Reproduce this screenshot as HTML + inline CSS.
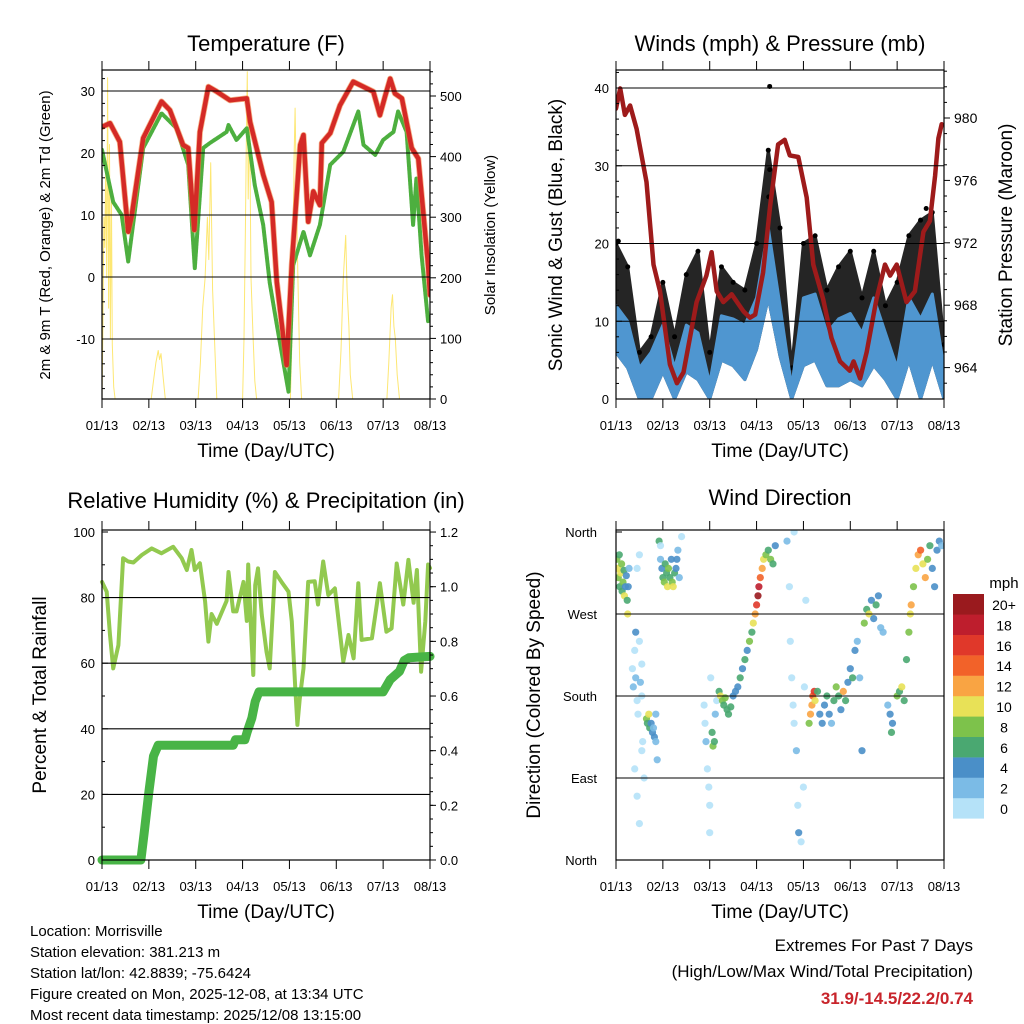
<!DOCTYPE html>
<html><head><meta charset="utf-8"><style>
html,body{margin:0;padding:0;background:#fff}
svg{display:block;font-family:"Liberation Sans",Arial,sans-serif}
</style></head><body>
<svg id="c" width="1024" height="1024" viewBox="0 0 1024 1024">
<rect width="1024" height="1024" fill="#fff"/>
<g id="g1"></g>
<g id="g2"></g>
<g id="g3"></g>
<g id="g4"></g>
<g font-size="22" text-anchor="middle" fill="#000">
<text x="266" y="51">Temperature (F)</text>
<text x="780" y="51">Winds (mph) &amp; Pressure (mb)</text>
<text x="266" y="508">Relative Humidity (%) &amp; Precipitation (in)</text>
<text x="780" y="505">Wind Direction</text>
</g>
<g font-size="19" text-anchor="middle">
<text x="266" y="457">Time (Day/UTC)</text>
<text x="780" y="457">Time (Day/UTC)</text>
<text x="266" y="918">Time (Day/UTC)</text>
<text x="780" y="918">Time (Day/UTC)</text>
<text transform="translate(50,235) rotate(-90)" font-size="15">2m &amp; 9m T (Red, Orange) &amp; 2m Td (Green)</text>
<text transform="translate(495,235) rotate(-90)" font-size="15">Solar Insolation (Yellow)</text>
<text transform="translate(562,235) rotate(-90)">Sonic Wind &amp; Gust (Blue, Black)</text>
<text transform="translate(1012,235) rotate(-90)">Station Pressure (Maroon)</text>
<text transform="translate(46,695) rotate(-90)">Percent &amp; Total Rainfall</text>
<text transform="translate(540,695) rotate(-90)">Direction (Colored By Speed)</text>
</g>
<g font-size="15">
<text x="30" y="936">Location: Morrisville</text>
<text x="30" y="957">Station elevation: 381.213 m</text>
<text x="30" y="978">Station lat/lon: 42.8839; -75.6424</text>
<text x="30" y="999">Figure created on Mon, 2025-12-08, at 13:34 UTC</text>
<text x="30" y="1020">Most recent data timestamp: 2025/12/08 13:15:00</text>
</g>
<g font-size="17" text-anchor="end">
<text x="973" y="951">Extremes For Past 7 Days</text>
<text x="973" y="977">(High/Low/Max Wind/Total Precipitation)</text>
<text x="973" y="1004" fill="#c8242b" font-weight="bold">31.9/-14.5/22.2/0.74</text>
</g>
<g id="leg"><text x="1004" y="588" font-size="15" text-anchor="middle">mph</text></g>
</svg>
<script>
const xTicks=["01/13","02/13","03/13","04/13","05/13","06/13","07/13","08/13"];
// Temperature
const tempT=[0,0.17,0.38,0.56,0.63,0.88,1.27,1.45,1.73,1.84,1.97,2.09,2.27,2.45,2.73,3.09,3.16,3.44,3.62,3.73,3.94,4.05,4.23,4.30,4.40,4.51,4.65,4.69,4.87,5.08,5.36,5.79,5.93,6.04,6.15,6.25,6.40,6.61,6.75,6.96,7];
const tempV=[24.2,24.8,21.8,7.3,9.7,22.4,28.3,26.9,21.3,20.8,7.6,23.4,30.7,29.9,28.5,28.8,25.0,16.5,12.1,-0.8,-14.2,2.1,21.3,22.9,8.9,13.8,11.6,21.6,23.2,27.7,31.5,29.9,26.1,29.1,32.0,29.6,28.8,20.8,19.1,1.9,-2.9];
const dewT=[0,0.24,0.42,0.56,0.88,1.27,1.59,1.84,1.98,2.16,2.30,2.66,2.70,2.87,3.09,3.26,3.44,3.58,3.73,3.98,4.08,4.30,4.44,4.65,4.87,5.15,5.47,5.58,5.83,6.0,6.22,6.32,6.50,6.64,6.71,6.82,6.96];
const dewV=[20.5,12.1,10.0,2.5,20.8,26.4,24.0,18.1,1.4,20.8,21.6,23.4,24.5,22.1,24.0,14.8,8.4,-0.9,-7.7,-18.5,1.9,7.3,3.5,8.4,18.1,20.2,26.7,21.3,19.7,22.1,23.4,26.7,23.4,8.4,15.9,3.5,-7.2];
const solarT=[0,0.02,0.04,0.06,0.08,0.1,0.12,0.14,0.16,0.18,0.2,0.22,0.25,0.28,1.05,1.1,1.15,1.2,1.23,1.26,1.3,1.35,2.05,2.1,2.15,2.2,2.25,2.28,2.32,2.36,2.42,2.45,3.0,3.03,3.06,3.08,3.1,3.12,3.15,3.18,3.22,3.26,3.3,4.02,4.05,4.08,4.1,4.12,4.15,4.18,4.22,4.26,5.05,5.1,5.15,5.2,5.23,5.27,5.3,5.35,6.08,6.12,6.17,6.2,6.23,6.26,6.3,6.35,7];
const solarV=[0,120,300,250,380,200,530,150,420,100,350,90,20,0,0,30,60,80,65,75,40,0,0,60,150,200,300,230,390,180,60,0,0,100,280,420,540,330,470,200,110,30,0,0,90,250,400,480,330,200,60,0,0,80,200,270,180,120,40,0,0,60,150,172,120,100,40,0,0];
const tempTicks=[30,20,10,0,-10];
const solarTicks=[500,400,300,200,100,0];
// Winds
const windT=[0,0.25,0.5,0.75,1,1.25,1.5,1.75,2,2.25,2.5,2.75,3,3.25,3.5,3.75,4,4.25,4.5,4.75,5,5.25,5.5,5.75,6,6.25,6.5,6.75,7];
const windMax=[12,10,4,6,9.5,4,9.5,8.5,2,10.7,10.3,9.5,13,22,12,1.5,13,13.5,8.5,10.3,11,8.5,13,8.5,4,13,10.3,13.5,4];
const windMin=[6,4,0,0,3.5,0,3.5,2.5,0,5,4.3,2.5,6.4,13,5.5,0,4.3,5,1.7,1.7,2.5,1.7,4.3,2.5,0,5,0,5,0];
const gustMax=[20,17,6,8,15,8,16,19,6,17,15,14,20,32,22,4,20,21,14,17,19,13,19,12,15,21,23,24,7];
const gustOutT=[3.28,3.28,3.26,6.62,0.05];
const gustOutV=[40.2,29.5,26,24.5,20.3];
const presT=[0,0.09,0.19,0.3,0.44,0.65,0.80,0.94,1.15,1.30,1.44,1.72,1.93,2.04,2.15,2.29,2.47,2.72,2.86,2.97,3.14,3.29,3.46,3.60,3.71,3.89,4.07,4.21,4.42,4.60,4.78,4.99,5.07,5.21,5.35,5.56,5.74,5.85,5.99,6.20,6.38,6.56,6.70,6.81,6.88,6.95];
const presV=[980.6,981.9,980.2,980.8,979.3,975.9,970.6,968.9,964.2,963.0,963.7,968.2,969.9,971.4,968.9,968.2,968.7,967.6,967.2,967.4,970.1,974.4,978.3,978.6,977.6,977.5,974.9,970.6,968.4,965.9,964.4,963.8,964.4,963.3,965.0,968.4,970.6,969.9,970.6,968.2,968.9,972.7,973.4,976.3,978.7,979.6];
const windTicks=[40,30,20,10,0];
const presTicks=[980,976,972,968,964];
// Humidity
const rhT=[0,0.1,0.17,0.24,0.35,0.45,0.56,0.67,0.85,1.06,1.27,1.52,1.70,1.81,1.91,1.98,2.09,2.20,2.27,2.34,2.45,2.66,2.70,2.80,2.87,3.02,3.09,3.12,3.16,3.23,3.27,3.33,3.41,3.51,3.58,3.69,3.83,3.98,4.05,4.12,4.17,4.22,4.30,4.40,4.54,4.61,4.72,4.83,4.97,5.15,5.26,5.37,5.47,5.54,5.76,5.93,6.07,6.18,6.29,6.43,6.54,6.65,6.72,6.81,6.90,6.96,7];
const rhV=[84.8,81.8,68.6,58.4,65.5,92,91,90.7,93,95,93.5,95.5,92,88.4,94.5,88.4,90.5,78.8,66.6,75,72,79,87.8,75.8,75.8,84.8,72.9,90.1,76.3,56.4,83.8,88.9,74.7,63.5,58.4,87.8,84.8,81.8,72.7,53.4,41.2,49,58.4,84.8,85,77.9,91,80.8,82.8,60.5,68.6,61.5,84.4,67.1,67.6,84.4,69.6,70.6,90.4,77.9,91.5,78.4,88.4,57.4,72.7,90.1,89];
const prT=[0,0.83,0.9,1.0,1.1,1.2,1.3,2.8,2.85,3.05,3.1,3.2,3.27,3.35,6.0,6.15,6.35,6.45,6.55,7];
const prV=[0,0,0.1,0.25,0.38,0.42,0.42,0.42,0.44,0.44,0.47,0.52,0.58,0.615,0.615,0.66,0.69,0.73,0.74,0.745];
const rhTicks=[100,80,60,40,20,0];
const prTicks=["1.2","1.0","0.8","0.6","0.4","0.2","0.0"];
// Wind direction
const dirT=[0.02,0.04,0.05,0.07,0.08,0.1,0.12,0.13,0.15,0.17,0.18,0.2,0.22,0.24,0.25,0.26,0.28,0.35,0.37,0.4,0.42,0.45,0.47,0.5,0.52,0.55,0.57,0.4,0.45,0.5,0.55,0.6,0.42,0.5,0.45,0.55,0.65,0.67,0.7,0.72,0.75,0.78,0.8,0.82,0.85,0.88,0.85,0.92,0.95,0.98,1.0,1.03,1.05,1.08,1.1,1.12,1.15,1.18,1.2,1.22,1.25,1.28,1.3,1.32,1.35,0.95,1.4,1.88,1.9,1.92,1.95,1.98,2.0,2.02,2.05,2.07,2.1,2.12,2.15,2.0,2.2,2.23,2.27,2.3,2.33,2.37,2.4,2.45,2.5,2.55,2.6,2.65,2.7,2.75,2.8,2.85,2.9,2.93,2.97,3.0,3.03,3.05,3.08,3.12,3.15,3.2,3.25,3.3,3.35,3.4,3.65,3.7,3.72,3.75,3.78,3.8,3.85,3.88,3.9,3.95,4.0,4.02,3.8,4.05,4.12,4.15,4.18,4.2,4.23,4.25,4.3,4.35,4.4,4.45,4.5,4.55,4.6,4.65,4.7,4.75,4.8,4.85,4.9,4.95,5.0,5.05,5.1,5.15,5.2,5.25,5.3,5.35,5.4,5.45,5.5,5.55,5.6,5.65,5.7,5.8,5.85,5.88,5.9,6.0,6.05,6.1,6.15,6.2,6.25,6.28,6.3,6.35,6.4,6.45,6.5,6.55,6.6,6.65,6.7,6.75,6.8,6.85,6.9,6.95];
const dirDeg=[330,320,310,335,300,315,325,295,305,318,290,300,312,285,270,300,320,210,190,230,200,175,160,240,195,180,130,100,70,40,120,90,250,335,320,215,155,150,160,145,150,140,145,135,130,110,160,350,330,320,310,305,325,315,300,320,310,330,305,300,315,320,330,340,310,345,355,170,150,130,100,80,60,200,140,125,130,160,175,30,185,180,175,170,178,165,160,168,180,185,190,200,210,220,230,240,250,260,270,280,290,300,310,320,330,335,340,330,325,345,350,300,240,200,170,150,120,60,30,20,80,190,360,285,150,160,170,180,185,175,185,160,150,170,180,160,150,175,190,180,165,185,175,195,210,200,230,240,200,120,260,275,270,285,265,280,290,255,250,170,160,140,150,180,185,190,175,220,250,270,280,300,320,335,340,325,310,330,345,320,300,340,350,345];
const dirSpd=[8,10,9,7,6,10,8,6,9,7,10,5,4,6,10,4,3,1,2,0,2,1,0,1,2,0,1,0,0,1,0,1,4,1,0,1,8,6,10,7,4,4,3,4,2,2,3,6,3,5,6,8,7,6,10,8,6,4,8,10,7,4,4,3,2,0,1,1,0,2,0,1,0,1,6,8,6,2,1,0,6,10,8,6,9,7,6,6,4,4,4,6,4,6,4,8,6,10,12,16,20,18,14,12,10,8,6,8,6,4,2,1,1,0,1,0,2,1,4,0,1,1,0,0,8,12,12,14,16,10,6,4,4,4,6,4,2,6,8,6,4,12,6,4,4,6,4,3,2,4,8,6,10,4,4,6,4,2,3,2,4,6,4,8,6,10,6,6,8,10,12,8,10,12,14,10,12,8,6,4,4,4,4,2];
const speedColors=["#b5e2f8","#7bbbe6","#4a8fc8","#4aa871","#7dc24b","#e8e157","#f9a443","#f26229","#e0382a","#be1e2d","#9a1a1e"];
const speedLabels=["0","2","4","6","8","10","12","14","16","18","20+"];
const dirTicks=["North","East","South","West","North"];

const NS="http://www.w3.org/2000/svg";
function mk(tag,attrs,parent){const e=document.createElementNS(NS,tag);for(const k in attrs)e.setAttribute(k,attrs[k]);parent.appendChild(e);return e;}
function txt(s,x,y,anchor,size,parent){const e=mk("text",{x:x,y:y,"text-anchor":anchor,"font-size":size},parent);e.textContent=s;return e;}
function panel(g,x0,x1,y0,y1){
  return {x0,x1,y0,y1,xs:t=>x0+t*(x1-x0)/7};
}
function frame(g,p,name){
  const r=mk("rect",{x:p.x0,y:p.y0,width:p.x1-p.x0,height:p.y1-p.y0,fill:"none",stroke:"#000","stroke-width":1.2},g);
  
  
  for(let i=0;i<8;i++){
    const x=p.xs(i);
    mk("line",{x1:x,x2:x,y1:p.y1,y2:p.y1+9,stroke:"#000"},g);
    mk("line",{x1:x,x2:x,y1:p.y0,y2:p.y0-9,stroke:"#000"},g);
    const t=txt(xTicks[i],x,p.y1+31,"middle",13,g);
    
    
  }
}
function grid(g,p,y){mk("line",{x1:p.x0,x2:p.x1,y1:y,y2:y,stroke:"#000","stroke-width":1.1},g);}
function yTickL(g,p,y,label){mk("line",{x1:p.x0,x2:p.x0+6,y1:y,y2:y,stroke:"#000"},g);const t=txt(label,p.x0-7,y+5,"end",13,g);}
function yTickR(g,p,y,label,fs){mk("line",{x1:p.x1,x2:p.x1+6,y1:y,y2:y,stroke:"#000"},g);const t=txt(label,p.x1+10,y+5,"start",fs||13,g);}
function minorR(g,p,y){mk("line",{x1:p.x1,x2:p.x1+3,y1:y,y2:y,stroke:"#000"},g);}
function poly(g,T,V,xs,ys,attrs,name){
  const pts=T.map((t,i)=>xs(t).toFixed(1)+","+ys(V[i]).toFixed(1)).join(" ");
  const e=mk("polyline",Object.assign({points:pts,fill:"none","stroke-linejoin":"round","stroke-linecap":"round"},attrs),g);
  
  
  return e;
}

// Panel 1
(function(){
  const g=document.getElementById("g1");
  const p=panel(g,102,430,70,399);
  const yT=v=>277-v*6.2, yS=v=>399-v*0.606;
  const c=mk("clipPath",{id:"cp1"},g);mk("rect",{x:p.x0,y:p.y0,width:p.x1-p.x0,height:p.y1-p.y0},c);
  const cg=mk("g",{"clip-path":"url(#cp1)"},g);
  tempTicks.forEach(v=>grid(g,p,yT(v)));
  poly(cg,solarT,solarV,p.xs,yS,{stroke:"#fde35a","stroke-width":1,opacity:0.85},"solar-line");
  poly(cg,dewT,dewV,p.xs,yT,{stroke:"#4daf3f","stroke-width":4,"stroke-dasharray":"2.5,1.2"},"dewpoint-line");
  poly(cg,tempT,tempV,p.xs,yT,{stroke:"#f07f3a","stroke-width":6,opacity:0.6},"temp-9m-line");
  poly(cg,tempT,tempV,p.xs,yT,{stroke:"#d42a26","stroke-width":4.5},"temp-2m-line");
  frame(g,p,"temperature");
  tempTicks.forEach(v=>yTickL(g,p,yT(v),String(v)));
  for(let v=-20;v<=33;v+=2) if(v%10) mk("line",{x1:p.x0,x2:p.x0+3,y1:yT(v),y2:yT(v),stroke:"#000"},g);
  solarTicks.forEach(v=>yTickR(g,p,yS(v),String(v)));
  for(let v=20;v<=540;v+=20) if(v%100) minorR(g,p,yS(v));
})();

// Panel 2
(function(){
  const g=document.getElementById("g2");
  const p=panel(g,616,944,70,399);
  const yW=v=>399-v*7.775, yP=v=>118-(v-980)*15.6;
  const c=mk("clipPath",{id:"cp2"},g);mk("rect",{x:p.x0,y:p.y0,width:p.x1-p.x0,height:p.y1-p.y0},c);
  const cg=mk("g",{"clip-path":"url(#cp2)"},g);
  windTicks.forEach(v=>grid(g,p,yW(v)));
  let up=windT.map((t,i)=>p.xs(t).toFixed(1)+","+yW(gustMax[i]).toFixed(1));
  let dn=windT.map((t,i)=>p.xs(t).toFixed(1)+","+yW(windMin[i]).toFixed(1)).reverse();
  const gb=mk("polygon",{points:up.concat(dn).join(" "),fill:"#000",stroke:"#000","stroke-width":3,"stroke-linejoin":"round",opacity:0.85},cg);
  
  
  windT.forEach((t,i)=>{const d=mk("circle",{cx:p.xs(t),cy:yW(gustMax[i]),r:2.5,fill:"#000"},cg);
    
    });
  gustOutT.forEach((t,i)=>{const d=mk("circle",{cx:p.xs(t),cy:yW(gustOutV[i]),r:2.5,fill:"#000"},cg);
    
    });
  up=windT.map((t,i)=>p.xs(t).toFixed(1)+","+yW(windMax[i]).toFixed(1));
  dn=windT.map((t,i)=>p.xs(t).toFixed(1)+","+yW(windMin[i]).toFixed(1)).reverse();
  const wb=mk("polygon",{points:up.concat(dn).join(" "),fill:"#4f96d0",stroke:"#4f96d0","stroke-width":3,"stroke-linejoin":"round"},cg);
  
  
  poly(cg,presT,presV,p.xs,yP,{stroke:"#9e1b1b","stroke-width":4.5},"pressure-line");
  frame(g,p,"winds");
  windTicks.forEach(v=>yTickL(g,p,yW(v),String(v)));
  for(let v=2;v<=42;v+=2) if(v%10) mk("line",{x1:p.x0,x2:p.x0+3,y1:yW(v),y2:yW(v),stroke:"#000"},g);
  presTicks.forEach(v=>yTickR(g,p,yP(v),String(v),14));
  for(let v=963;v<=983;v++) if(v%4) minorR(g,p,yP(v));
})();

// Panel 3
(function(){
  const g=document.getElementById("g3");
  const p=panel(g,102,430,530,860);
  const yR=v=>860-v*3.28, yPr=v=>860-v*273.3;
  const c=mk("clipPath",{id:"cp3"},g);mk("rect",{x:p.x0-6,y:p.y0,width:p.x1-p.x0+12,height:p.y1-p.y0+6},c);
  const cg=mk("g",{"clip-path":"url(#cp3)"},g);
  [80,60,40,20].forEach(v=>grid(g,p,yR(v)));
  poly(cg,rhT,rhV,p.xs,yR,{stroke:"#92c94f","stroke-width":4},"humidity-line");
  poly(cg,prT,prV,p.xs,yPr,{stroke:"#48b446","stroke-width":9},"precip-line");
  frame(g,p,"humidity");
  rhTicks.forEach(v=>yTickL(g,p,yR(v),String(v)));
  for(let v=10;v<100;v+=20) mk("line",{x1:p.x0,x2:p.x0+3,y1:yR(v),y2:yR(v),stroke:"#000"},g);
  prTicks.forEach(s=>yTickR(g,p,yPr(parseFloat(s)),s));
  for(let v=0.05;v<1.2;v+=0.05) minorR(g,p,yPr(v));
})();

// Panel 4
(function(){
  const g=document.getElementById("g4");
  const p=panel(g,616,944,530,860);
  const yD=v=>860-v/360*328;
  const c=mk("clipPath",{id:"cp4"},g);mk("rect",{x:p.x0,y:p.y0,width:p.x1-p.x0,height:p.y1-p.y0},c);
  const cg=mk("g",{"clip-path":"url(#cp4)"},g);
  [90,180,270].forEach(v=>grid(g,p,yD(v)));
  dirT.forEach((t,i)=>{
    const idx=Math.min(10,Math.floor(dirSpd[i]/2));
    const d=mk("circle",{cx:p.xs(t).toFixed(1),cy:yD(dirDeg[i]).toFixed(1),r:3.6,fill:speedColors[idx],opacity:0.9},cg);
    
    
  });
  frame(g,p,"direction");
  dirTicks.forEach((s,i)=>{const y=yD(i*90);mk("line",{x1:p.x0,x2:p.x0+6,y1:y,y2:y,stroke:"#000"},g);
    const t=txt(s,p.x0-19,y+5,"end",13,g);});
  const lg=document.getElementById("leg");
  for(let i=0;i<11;i++){
    const y=594+(10-i)*20.4;
    const r=mk("rect",{x:953,y:y,width:31,height:20.6,fill:speedColors[i]},lg);
    
    
    const t=txt(speedLabels[i],1004,y+16,"middle",14,lg);
    
    
  }
})();
</script>
</body></html>
